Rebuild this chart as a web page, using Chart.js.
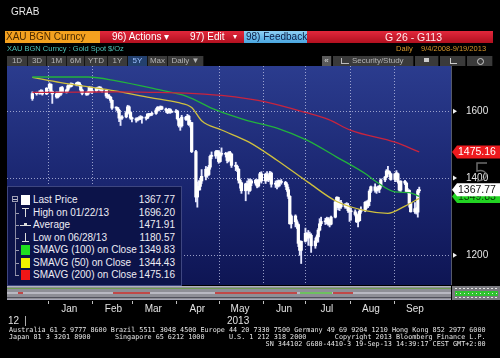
<!DOCTYPE html>
<html><head><meta charset="utf-8">
<script src="https://cdn.jsdelivr.net/npm/chart.js@4.4.1/dist/chart.umd.min.js"></script>
<style>
html,body{margin:0;padding:0;background:#000;width:500px;height:358px;overflow:hidden;font-family:"Liberation Sans",Arial,sans-serif;}
#wrap{position:relative;width:500px;height:358px;}
#c{position:absolute;left:0;top:0;}
.a{position:absolute;white-space:nowrap;}
.btn{position:absolute;top:56px;height:10px;line-height:10px;font-size:8px;color:#b4b4b4;background:#3a3a3a;text-align:center;border-right:1px solid #141414;box-sizing:border-box;}
.lg{position:absolute;font-size:10px;line-height:12px;color:#ececf4;white-space:nowrap;}
.ft{position:absolute;left:9px;margin:0;font-family:'DejaVu Sans Mono',monospace;font-size:6.78px;line-height:7px;color:#e6e6e6;white-space:pre;}
</style></head>
<body><div id="wrap">
<canvas id="c" width="500" height="358"></canvas>

<div class="a" style="left:11px;top:6px;font-size:10px;color:#e6e6e6;">GRAB</div>

<div class="a" style="left:5px;top:31px;width:95px;height:12px;background:#f4a11f;"></div>
<div class="a" style="left:6px;top:31px;font-size:10px;line-height:12px;color:#4a2a00;">XAU BGN Curncy</div>
<div class="a" style="left:100px;top:31px;width:144px;height:12px;background:linear-gradient(#e2283c,#b2101f);"></div>
<div class="a" style="left:112px;top:31px;font-size:10px;line-height:12px;color:#fff;">96) Actions ▾</div>
<div class="a" style="left:190px;top:31px;font-size:10px;line-height:12px;color:#fff;">97) Edit</div>
<div class="a" style="left:233px;top:31px;font-size:8px;line-height:12px;color:#fff;">▾</div>
<div class="a" style="left:244px;top:31px;width:63px;height:12px;background:linear-gradient(#8fd0f4,#4aa6e0);"></div>
<div class="a" style="left:246px;top:31px;font-size:10px;line-height:12px;color:#0c1c44;">98) Feedback</div>
<div class="a" style="left:307px;top:31px;width:186px;height:12px;background:linear-gradient(#e2283c,#b2101f);"></div>
<div class="a" style="left:385px;top:31px;font-size:10.5px;line-height:12px;color:#ffe8ea;">G 26 - G113</div>

<div class="a" style="left:7px;top:45px;font-size:7.5px;line-height:8px;color:#4ec2b6;">XAU BGN Curncy : Gold Spot</div>
<div class="a" style="left:108px;top:45px;font-size:7.5px;line-height:8px;color:#4ec2b6;">$/Oz</div>
<div class="a" style="left:396px;top:45px;font-size:7.5px;line-height:8px;color:#d8982c;">Daily</div>
<div class="a" style="left:421px;top:45px;font-size:7.5px;line-height:8px;color:#d8982c;">9/4/2008-9/19/2013</div>

<div class="btn" style="left:7px;width:21px;">1D</div>
<div class="btn" style="left:28px;width:19px;">3D</div>
<div class="btn" style="left:47px;width:20px;">1M</div>
<div class="btn" style="left:67px;width:18px;">6M</div>
<div class="btn" style="left:85px;width:23px;">YTD</div>
<div class="btn" style="left:108px;width:20px;">1Y</div>
<div class="btn" style="left:128px;width:20px;background:#23406e;color:#9cc0ff;">5Y</div>
<div class="btn" style="left:148px;width:20px;">Max</div>
<div class="btn" style="left:168px;width:36px;">Daily ▼</div>
<div class="btn" style="left:322px;width:10px;background:#5a5a5a;color:#ddd;">«</div>
<div class="btn" style="left:333px;width:81px;"></div>
<div class="a" style="left:341px;top:58px;width:7px;height:5px;border-left:1px solid #bbb;border-bottom:1px solid #bbb;"></div>
<div class="a" style="left:352px;top:56px;font-size:8px;line-height:10px;color:#b4b4b4;">Security/Study</div>
<div class="btn" style="left:415px;width:24px;"></div>
<div class="a" style="left:424px;top:58px;width:5px;height:4px;background:#ccc;"></div>
<div class="btn" style="left:440px;width:26px;"></div>
<div class="a" style="left:450px;top:58px;width:6px;height:5px;border-left:1px solid #ccc;border-bottom:1px solid #ccc;"></div>
<div class="btn" style="left:467px;width:26px;"></div>
<div class="a" style="left:477px;top:58px;width:5px;height:5px;border:1px solid #ccc;border-radius:50%;"></div>

<div id="legend" class="a" style="left:7px;top:186px;width:173px;height:98px;background:#0c1349;border:1px solid #3e4680;"></div>

<div class="a" style="left:8px;top:315px;font-size:10px;color:#e0e0e0;">12</div>
<div class="a" style="left:25px;top:316px;width:1px;height:10px;background:#aaa;"></div>
<div class="a" style="left:227px;top:315px;font-size:10px;color:#e0e0e0;">2013</div>

<div class="ft" style="top:327px;">Australia 61 2 9777 8600 Brazil 5511 3048 4500 Europe 44 20 7330 7500 Germany 49 69 9204 1210 Hong Kong 852 2977 6000</div>
<div class="ft" style="top:334px;">Japan 81 3 3201 8900      Singapore 65 6212 1000      U.S. 1 212 318 2000       Copyright 2013 Bloomberg Finance L.P.</div>
<div class="ft" style="top:341px;">                                                               SN 344102 G680-4410-3 19-Sep-13 14:39:17 CEST GMT+2:00</div>
</div>

<script>
const dates = [
"2012-12-21","2012-12-24","2012-12-26","2012-12-27","2012-12-28","2012-12-31",
"2013-01-02","2013-01-03","2013-01-04","2013-01-07","2013-01-08","2013-01-09","2013-01-10","2013-01-11","2013-01-14","2013-01-15","2013-01-16","2013-01-17","2013-01-18","2013-01-21","2013-01-22","2013-01-23","2013-01-24","2013-01-25","2013-01-28","2013-01-29","2013-01-30","2013-01-31",
"2013-02-01","2013-02-04","2013-02-05","2013-02-06","2013-02-07","2013-02-08","2013-02-11","2013-02-12","2013-02-13","2013-02-14","2013-02-15","2013-02-18","2013-02-19","2013-02-20","2013-02-21","2013-02-22","2013-02-25","2013-02-26","2013-02-27","2013-02-28",
"2013-03-01","2013-03-04","2013-03-05","2013-03-06","2013-03-07","2013-03-08","2013-03-11","2013-03-12","2013-03-13","2013-03-14","2013-03-15","2013-03-18","2013-03-19","2013-03-20","2013-03-21","2013-03-22","2013-03-25","2013-03-26","2013-03-27","2013-03-28","2013-03-29",
"2013-04-01","2013-04-02","2013-04-03","2013-04-04","2013-04-05","2013-04-08","2013-04-09","2013-04-10","2013-04-11","2013-04-12","2013-04-15","2013-04-16","2013-04-17","2013-04-18","2013-04-19","2013-04-22","2013-04-23","2013-04-24","2013-04-25","2013-04-26","2013-04-29","2013-04-30",
"2013-05-01","2013-05-02","2013-05-03","2013-05-06","2013-05-07","2013-05-08","2013-05-09","2013-05-10","2013-05-13","2013-05-14","2013-05-15","2013-05-16","2013-05-17","2013-05-20","2013-05-21","2013-05-22","2013-05-23","2013-05-24","2013-05-27","2013-05-28","2013-05-29","2013-05-30","2013-05-31",
"2013-06-03","2013-06-04","2013-06-05","2013-06-06","2013-06-07","2013-06-10","2013-06-11","2013-06-12","2013-06-13","2013-06-14","2013-06-17","2013-06-18","2013-06-19","2013-06-20","2013-06-21","2013-06-24","2013-06-25","2013-06-26","2013-06-27","2013-06-28",
"2013-07-01","2013-07-02","2013-07-03","2013-07-04","2013-07-05","2013-07-08","2013-07-09","2013-07-10","2013-07-11","2013-07-12","2013-07-15","2013-07-16","2013-07-17","2013-07-18","2013-07-19","2013-07-22","2013-07-23","2013-07-24","2013-07-25","2013-07-26","2013-07-29","2013-07-30","2013-07-31",
"2013-08-01","2013-08-02","2013-08-05","2013-08-06","2013-08-07","2013-08-08","2013-08-09","2013-08-12","2013-08-13","2013-08-14","2013-08-15","2013-08-16","2013-08-19","2013-08-20","2013-08-21","2013-08-22","2013-08-23","2013-08-26","2013-08-27","2013-08-28","2013-08-29","2013-08-30",
"2013-09-02","2013-09-03","2013-09-04","2013-09-05","2013-09-06","2013-09-09","2013-09-10","2013-09-11","2013-09-12","2013-09-13","2013-09-16","2013-09-17","2013-09-18","2013-09-19"];
const opens = [
1641,1657,1659,1662,1663,1656,
1675,1688,1664,1656,1646,1660,1655,1677,1662,1669,1683,1680,1688,1687,1692,1693,1685,1669,1658,1655,1662,1678,
1663,1667,1675,1673,1677,1671,1668,1649,1649,1645,1635,1610,1611,1603,1578,1578,1582,1595,1614,1596,
1578,1576,1572,1575,1577,1581,1578,1578,1591,1588,1590,1593,1604,1612,1607,1614,1607,1603,1596,1605,1598,
1597,1600,1576,1555,1554,1581,1574,1584,1558,1564,1476,1348,1368,1377,1392,1405,1425,1410,1431,1462,1463,1476,
1476,1447,1468,1470,1468,1450,1473,1469,1436,1433,1425,1394,1387,1365,1384,1377,1366,1392,1386,1394,1378,1392,1412,
1392,1411,1396,1398,1414,1383,1386,1378,1392,1389,1388,1382,1368,1350,1278,1298,1283,1276,1229,1212,
1234,1254,1242,1251,1249,1223,1235,1245,1262,1278,1284,1283,1291,1277,1277,1295,1335,1347,1320,1333,1322,1328,1325,
1312,1310,1309,1302,1283,1286,1310,1313,1334,1324,1336,1364,1376,1366,1372,1369,1378,1395,1403,1420,1418,1412,
1396,1412,1412,1390,1367,1391,1386,1363,1366,1331,1309,1317,1308,1365];
const highs = [
1663,1662,1667,1670,1669,1677,
1693,1690,1666,1663,1662,1663,1679,1681,1672,1686,1685,1693,1692,1694,1696.2,1695,1688,1672,1662,1666,1681,1679,
1679,1677,1679,1681,1680,1675,1669,1655,1654,1648,1637,1614,1612,1606,1581,1586,1600,1619,1617,1599,
1581,1579,1580,1583,1586,1584,1582,1592,1593,1593,1597,1609,1615,1614,1617,1616,1610,1606,1609,1608,1600,
1605,1603,1577,1561,1587,1584,1590,1587,1571,1565,1480,1389,1393,1400,1424,1433,1430,1436,1466,1475,1479,1479,
1478,1473,1487,1474,1470,1476,1477,1470,1445,1437,1427,1397,1389,1386,1392,1398,1397,1396,1397,1396,1396,1416,1418,
1414,1418,1407,1419,1417,1392,1393,1395,1394,1396,1391,1387,1375,1352,1301,1301,1288,1278,1236,1235,
1267,1256,1261,1257,1253,1242,1250,1266,1291,1295,1292,1295,1294,1288,1298,1338,1349,1348,1336,1339,1331,1333,1331,
1319,1318,1314,1306,1288,1315,1322,1336,1338,1340,1368,1378,1384,1375,1378,1379,1398,1405,1424,1433,1420,1414,
1413,1421,1414,1392,1393,1394,1388,1371,1368,1333,1333,1320,1369,1375];
const lows = [
1635,1652,1655,1656,1652,1654,
1672,1662,1625,1642,1643,1648,1651,1660,1659,1664,1675,1679,1682,1683,1683,1682,1664,1653,1651,1652,1659,1660,
1657,1663,1671,1668,1665,1662,1643,1641,1640,1628,1606,1603,1596,1567,1555,1574,1579,1590,1592,1574,
1566,1565,1569,1572,1573,1562,1572,1576,1583,1585,1586,1590,1600,1601,1604,1605,1596,1592,1594,1593,1596,
1595,1572,1550,1540,1550,1571,1572,1555,1550,1473,1335,1321,1366,1367,1385,1395,1402,1407,1425,1455,1456,1465,
1442,1445,1463,1460,1443,1446,1461,1430,1421,1418,1386,1372,1358,1338,1368,1356,1363,1379,1381,1373,1375,1389,1386,
1385,1392,1390,1394,1375,1374,1370,1375,1378,1383,1376,1363,1344,1277,1267,1270,1266,1221,1200,1180.57,
1232,1236,1224,1245,1207,1217,1231,1232,1260,1273,1276,1278,1274,1270,1275,1293,1332,1314,1312,1318,1318,1318,1307,
1284,1287,1298,1281,1270,1285,1305,1309,1317,1320,1325,1360,1361,1358,1364,1360,1372,1390,1401,1411,1404,1394,
1390,1395,1386,1364,1363,1382,1360,1359,1321,1308,1305,1303,1295,1360];
const closes = [
1657,1659,1662,1663,1656,1675,
1688,1664,1656,1646,1660,1655,1677,1662,1669,1683,1680,1688,1687,1692,1693,1685,1669,1658,1655,1662,1678,1663,
1667,1675,1673,1677,1671,1668,1649,1649,1645,1635,1610,1611,1603,1578,1578,1582,1595,1614,1596,1578,
1576,1572,1575,1577,1581,1578,1578,1591,1588,1590,1593,1604,1612,1607,1614,1607,1603,1596,1605,1598,1597,
1600,1576,1555,1554,1581,1574,1584,1558,1564,1476,1348,1368,1377,1392,1405,1425,1410,1431,1462,1463,1476,1476,
1447,1468,1470,1468,1450,1473,1469,1436,1433,1425,1394,1387,1365,1384,1377,1366,1392,1386,1394,1378,1392,1412,1392,
1411,1396,1398,1414,1383,1386,1378,1392,1389,1388,1382,1368,1350,1278,1298,1283,1276,1229,1212,1234,
1254,1242,1251,1249,1223,1235,1245,1262,1278,1284,1283,1291,1277,1277,1295,1335,1347,1320,1333,1322,1328,1325,1312,
1310,1309,1302,1283,1286,1310,1313,1334,1324,1336,1364,1376,1366,1372,1369,1378,1395,1403,1420,1418,1412,1396,
1412,1412,1390,1367,1391,1386,1363,1366,1331,1309,1317,1308,1365,1367.77];

// moving averages at sample dates
const ma50Dates  = ["2012-12-21","2013-01-10","2013-02-11","2013-03-14","2013-04-02","2013-04-12","2013-04-19","2013-05-03","2013-05-22","2013-06-11","2013-07-03","2013-07-23","2013-08-12","2013-08-28","2013-09-09","2013-09-19"];
const ma50       = [1712,1694,1671,1644,1628,1612,1570,1541,1505,1451,1388,1336,1312,1305,1324,1344.43];
const ma100Dates = ["2012-12-21","2013-01-29","2013-02-18","2013-03-20","2013-04-08","2013-04-29","2013-05-20","2013-06-11","2013-07-02","2013-07-23","2013-08-13","2013-08-19","2013-09-02","2013-09-12","2013-09-19"];
const ma100      = [1713,1713,1700,1670,1649,1604,1572,1547,1510,1460,1410,1392,1362,1360,1349.83];
const ma200Dates = ["2012-12-21","2013-01-23","2013-02-18","2013-03-20","2013-04-08","2013-05-03","2013-05-22","2013-06-03","2013-07-01","2013-07-17","2013-08-02","2013-09-02","2013-09-19"];
const ma200      = [1661,1662,1663,1661,1659,1651,1640,1630,1596,1574,1540,1504,1475.16];

const yTickValues = [1200, 1400, 1600];
const monthLabels = ["Jan","Feb","Mar","Apr","May","Jun","Jul","Aug","Sep"];
const monthMidDates = ["2013-01-16","2013-02-16","2013-03-16","2013-04-16","2013-05-16","2013-06-16","2013-07-16","2013-08-16","2013-09-16"];
const monthStartDates = ["2013-01-01","2013-02-01","2013-03-01","2013-04-01","2013-05-01","2013-06-01","2013-07-01","2013-08-01","2013-09-01"];
const gridDates = ["2013-01-01","2013-02-01","2013-05-01","2013-06-01","2013-07-01","2013-08-01","2013-09-01"];

const legendLabels = ["Last Price","High on 01/22/13","Average","Low on 06/28/13","SMAVG (100) on Close","SMAVG (50) on Close","SMAVG (200) on Close"];
const legendValues = ["1367.77","1696.20","1471.91","1180.57","1349.83","1344.43","1475.16"];

function dayNum(s){const p=s.split('-').map(Number);return (Date.UTC(p[0],p[1]-1,p[2])-Date.UTC(2013,0,1))/864e5;}
const xs = dates.map(dayNum);

// legend overlay
(function(){
  const wrap=document.getElementById('wrap');
  const rowY=[200,212.5,225,237.5,250,262.5,275];
  const sw=[null,null,null,null,'#1fe01f','#f2f000','#f01616'];
  function box(l,t,w,h,css){const d=document.createElement('div');d.className='a';d.style.cssText+=`left:${l}px;top:${t}px;width:${w}px;height:${h}px;`+css;wrap.appendChild(d);return d;}
  legendLabels.forEach((lab,i)=>{
    const t=rowY[i]-6;
    const a=document.createElement('div');a.className='lg';a.style.left='33px';a.style.top=t+'px';a.textContent=lab;wrap.appendChild(a);
    const b=document.createElement('div');b.className='lg';b.style.left='120px';b.style.width='55px';b.style.textAlign='right';b.style.top=t+'px';b.textContent=legendValues[i];wrap.appendChild(b);
    if(sw[i]) box(21,rowY[i]-5,9,10,'background:'+sw[i]+';');
    if(i>0) box(15,rowY[i],4,1,'background:#9a9ab0;');
  });
  box(12,196,6,6,'border:1px solid #a0a0b4;box-sizing:border-box;');
  box(13,199,4,1,'background:#c0c0d0;');
  box(21,195,9,10,'background:#fff;');
  box(15,203,1,72,'background:#8a8aa4;');
  box(22,208,7,1,'background:#ddd;'); box(25,208,1,9,'background:#ddd;');
  box(20,225,11,1,'background:#ddd;'); box(24,223,3,3,'background:#ddd;');
  box(25,233,1,9,'background:#ddd;'); box(22,241,7,1,'background:#ddd;');
})();

const bbg = {
  id:'bbg',
  beforeDraw(chart){
    const {ctx, chartArea:a, scales:{x,y}} = chart;
    ctx.save();
    const g=ctx.createLinearGradient(0,a.top,0,a.bottom);
    g.addColorStop(0,'#2b3c8e'); g.addColorStop(0.5,'#1b2772'); g.addColorStop(1,'#0e1554');
    ctx.fillStyle=g; ctx.fillRect(a.left,a.top,a.right-a.left,a.bottom-a.top);
    ctx.strokeStyle='rgba(185,190,225,0.8)'; ctx.lineWidth=1; ctx.setLineDash([1,2]);
    gridDates.forEach(d=>{const px=Math.round(x.getPixelForValue(dayNum(d)))+0.5;ctx.beginPath();ctx.moveTo(px,a.top);ctx.lineTo(px,a.bottom);ctx.stroke();});
    yTickValues.forEach(v=>{const py=Math.round(y.getPixelForValue(v))+0.5;ctx.beginPath();ctx.moveTo(a.left,py);ctx.lineTo(a.right,py);ctx.stroke();});
    ctx.restore();
  },
  afterDraw(chart){
    const {ctx, chartArea:a, scales:{x,y}} = chart;
    ctx.save();
    ctx.fillStyle='#55596a'; ctx.fillRect(a.right,a.top,1,a.bottom-a.top);
    const sT=a.bottom+1;
    ctx.fillStyle='#8e8e96'; ctx.fillRect(a.left,sT,a.right-a.left,14);
    ctx.fillStyle='#b4b4bc'; ctx.fillRect(a.left,sT,a.right-a.left,1);
    ctx.fillStyle='#6e9a4e'; ctx.fillRect(a.left,sT+2,a.right-a.left,1);
    ctx.fillStyle='#b8b8c2'; ctx.fillRect(a.left,sT+6,a.right-a.left,2);
    ctx.fillStyle='#c04848';
    [[18,23],[113,150],[215,297],[333,353]].forEach(s=>ctx.fillRect(s[0],sT+6,s[1]-s[0],2));
    ctx.fillStyle='#6ec060'; ctx.fillRect(300,sT+6,32,2);
    ctx.fillStyle='#50505c'; ctx.fillRect(a.left,sT+11,a.right-a.left,1);
    ctx.fillStyle='#a8a8b8'; ctx.fillRect(a.left,sT+13,a.right-a.left,1);
    ctx.fillStyle='#7a7a80'; ctx.fillRect(a.right+1,sT,500-a.right-1,14);
    ctx.fillStyle='#2ec22e'; ctx.fillRect(a.right+4,sT+5,43,5);
    ctx.fillStyle='#e8e8e8';
    for(let i=a.right+4;i<497;i+=4){ctx.fillRect(i,sT+2,2,1);ctx.fillRect(i,sT+11,2,1);ctx.fillRect(i+1,sT+7,1,1);}
    ctx.fillStyle='#c0c0c0';
    monthStartDates.forEach(d=>{const px=Math.round(x.getPixelForValue(dayNum(d)));ctx.fillRect(px,a.bottom+16,1,3);});
    ctx.fillStyle='#f0f0f0';
    yTickValues.forEach(v=>{const py=y.getPixelForValue(v);ctx.beginPath();ctx.moveTo(a.right+2,py-2.5);ctx.lineTo(a.right+6,py);ctx.lineTo(a.right+2,py+2.5);ctx.closePath();ctx.fill();});
    ctx.strokeStyle='#6c6c6c'; ctx.lineWidth=1.5;
    ctx.beginPath(); ctx.moveTo(487,163); ctx.lineTo(477,163); ctx.lineTo(477,171);
    ctx.bezierCurveTo(489,168,490,181,477,181); ctx.stroke();
    const tags=[
      {v:ma100[ma100.length-1], bg:'#22d422', fg:'#064006'},
      {v:ma200[ma200.length-1], bg:'#ee1a1e', fg:'#ffffff'},
      {v:closes[closes.length-1], bg:'#ffffff', fg:'#101010'}
    ];
    ctx.font='10.5px "Liberation Sans", Arial, sans-serif'; ctx.textBaseline='middle'; ctx.textAlign='left';
    tags.forEach(t=>{
      const c=y.getPixelForValue(t.v), L=a.right+1;
      ctx.fillStyle=t.bg; ctx.beginPath(); ctx.moveTo(L,c); ctx.lineTo(L+5,c-6.5); ctx.lineTo(500,c-6.5); ctx.lineTo(500,c+6.5); ctx.lineTo(L+5,c+6.5); ctx.closePath(); ctx.fill();
      ctx.fillStyle=t.fg; ctx.fillText(t.v.toFixed(2), L+6, c+0.5);
    });
    ctx.restore();
  }
};

const ctx = document.getElementById('c').getContext('2d');
new Chart(ctx, {
  type:'bar',
  data:{datasets:[
    {type:'line', label:'SMAVG (200)', data:ma200Dates.map((d,i)=>({x:dayNum(d),y:ma200[i]})), borderColor:'#c8243e', borderWidth:1.3, pointRadius:0, cubicInterpolationMode:'monotone', order:1},
    {type:'line', label:'SMAVG (100)', data:ma100Dates.map((d,i)=>({x:dayNum(d),y:ma100[i]})), borderColor:'#22b33c', borderWidth:1.3, pointRadius:0, cubicInterpolationMode:'monotone', order:1},
    {type:'line', label:'SMAVG (50)', data:ma50Dates.map((d,i)=>({x:dayNum(d),y:ma50[i]})), borderColor:'#cfc03e', borderWidth:1.3, pointRadius:0, cubicInterpolationMode:'monotone', order:1},
    {type:'bar', label:'Range', data:xs.map((v,i)=>({x:v,y:[lows[i],highs[i]]})), backgroundColor:'#e6e8ff', barThickness:1.2, grouped:false, order:3},
    {type:'bar', label:'Body', data:xs.map((v,i)=>({x:v,y:[Math.min(opens[i],closes[i]),Math.max(opens[i],closes[i])]})), backgroundColor:'#ffffff', barThickness:2.6, minBarLength:1, grouped:false, order:2}
  ]},
  options:{
    responsive:false, animation:false, devicePixelRatio:1,
    layout:{padding:{left:7,top:66,right:0,bottom:0}},
    plugins:{legend:{display:false}, tooltip:{enabled:false}},
    scales:{
      x:{type:'linear', min:-11.5, max:266, position:'bottom',
         grid:{display:false}, border:{display:false},
         afterBuildTicks:s=>{s.ticks=monthMidDates.map(d=>({value:dayNum(d)}));},
         afterFit:s=>{s.height=73;},
         ticks:{autoSkip:false, maxRotation:0, padding:10, color:'#e2e2e2', font:{family:'"Liberation Sans", Arial, sans-serif', size:10}, callback:(v,i)=>monthLabels[i]}},
      y:{type:'logarithmic', position:'right', min:1131, max:1751,
         grid:{display:false}, border:{display:false},
         afterBuildTicks:s=>{s.ticks=yTickValues.map(v=>({value:v}));},
         afterFit:s=>{s.width=49;},
         ticks:{padding:7, color:'#e6e6e6', font:{family:'"Liberation Sans", Arial, sans-serif', size:10}, callback:v=>String(v)}}
    }
  },
  plugins:[bbg]
});
</script>
</body></html>
